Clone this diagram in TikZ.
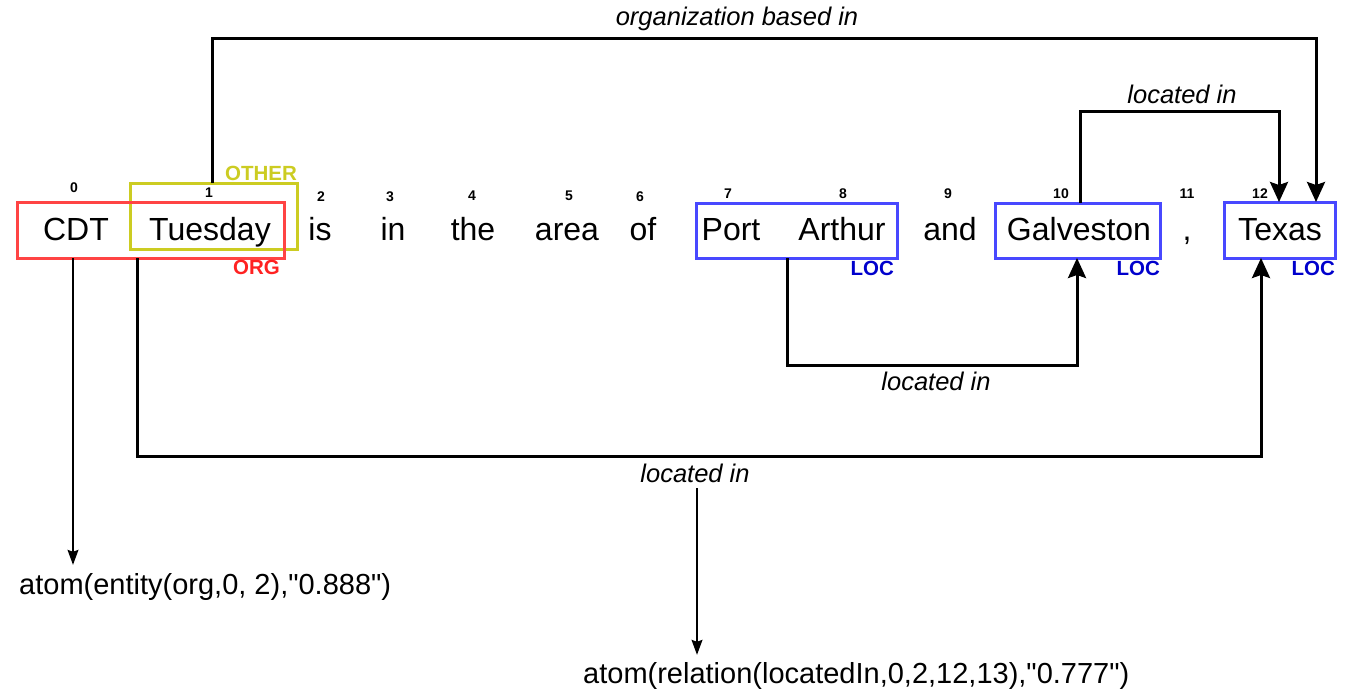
\documentclass[tikz,border=0pt]{standalone}
\usepackage{fontspec}
\setmainfont{Liberation Sans}
\usetikzlibrary{arrows.meta}
\definecolor{orgred}{HTML}{FF4444}
\definecolor{orgtext}{HTML}{FF2222}
\definecolor{othyel}{HTML}{CCCC22}
\definecolor{locblue}{HTML}{4848FF}
\definecolor{loctext}{HTML}{0000CC}

\begin{document}
\begin{tikzpicture}[x=1pt,y=-1pt,
  word/.style={anchor=base, inner sep=0pt, font=\fontsize{32}{38}\selectfont},
  idx/.style={anchor=base, inner sep=0pt, font=\fontsize{14}{16}\selectfont\bfseries},
  spanbox/.style={draw=#1, line width=3pt, inner sep=0pt, outer sep=0pt, rectangle},
  tagtext/.style={anchor=base east, inner sep=0pt, font=\fontsize{20.5}{24}\selectfont\bfseries},
  relarrow/.style={line width=3pt, -{Stealth[length=20pt,width=18pt,inset=3pt]}},
  rellabel/.style={anchor=base, inner sep=0pt, font=\fontsize{25.5}{30}\selectfont\itshape},
  outarrow/.style={line width=1.2pt, -{Stealth[length=15pt,width=11pt,inset=2pt]}},
  atomtxt/.style={anchor=base west, inner sep=0pt, font=\fontsize{29}{34}\selectfont}]

\fill[white] (0,0) rectangle (1356,693);
\useasboundingbox (0,0) rectangle (1356,693);

% tokens
\node[word] (w0)  at (76,240)   {CDT};
\node[word] (w1)  at (210,240)  {Tuesday};
\node[word] (w2)  at (320,240)  {is};
\node[word] (w3)  at (393,240)  {in};
\node[word] (w4)  at (473,240)  {the};
\node[word] (w5)  at (567,240)  {area};
\node[word] (w6)  at (643,240)  {of};
\node[word] (w7)  at (731,240)  {Port};
\node[word] (w8)  at (842,240)  {Arthur};
\node[word] (w9)  at (950,240)  {and};
\node[word] (w10) at (1079,240) {Galveston};
\node[word] (w11) at (1187,240) {,};
\node[word] (w12) at (1280,240) {Texas};

% token indices
\node[idx] (i0)  at (74,192)   {0};
\node[idx] (i1)  at (209,197)  {1};
\node[idx] (i2)  at (321,201)  {2};
\node[idx] (i3)  at (390,201)  {3};
\node[idx] (i4)  at (472,200)  {4};
\node[idx] (i5)  at (569,200)  {5};
\node[idx] (i6)  at (640,201)  {6};
\node[idx] (i7)  at (728,198)  {7};
\node[idx] (i8)  at (843,198)  {8};
\node[idx] (i9)  at (948,198)  {9};
\node[idx] (i10) at (1061,198) {10};
\node[idx] (i11) at (1187,198) {11};
\node[idx] (i12) at (1260,198) {12};

% entity spans
\node[spanbox=othyel, minimum width=167pt, minimum height=66pt] (othbox) at (213.5,216) {};
\node[spanbox=orgred, minimum width=267pt, minimum height=56pt] (orgbox) at (150.5,230) {};
\node[spanbox=locblue, minimum width=201pt, minimum height=55pt] (pabox) at (796.5,230.5) {};
\node[spanbox=locblue, minimum width=165pt, minimum height=55pt] (galbox) at (1077.5,230.5) {};
\node[spanbox=locblue, minimum width=111pt, minimum height=56pt] (texbox) at (1279.5,230) {};

% entity types
\node[tagtext, text=othyel] (tOther) at (297,180) {OTHER};
\node[tagtext, text=orgtext] (tOrg) at (280,274) {ORG};
\node[tagtext, text=loctext] (tLoc1) at (894,275) {LOC};
\node[tagtext, text=loctext] (tLoc2) at (1160,275) {LOC};
\node[tagtext, text=loctext] (tLoc3) at (1335,275) {LOC};

% relation labels
\node[rellabel] (lOrgIn) at (737,26)  {organization based in};
\node[rellabel] (lLoc1)  at (1182,103) {located in};
\node[rellabel] (lLoc2)  at (936,390) {located in};
\node[rellabel] (lLoc3)  at (695,482) {located in};

% relations
\draw[relarrow] ([xshift=82pt]othbox.north west) -- ++(0,-144) -| ([xshift=92pt]texbox.north west);
\draw[relarrow] ([xshift=85pt]galbox.north west) -- ++(0,-92) -| ([xshift=55pt]texbox.north west);
\draw[relarrow] ([xshift=91pt]pabox.south west) -- ++(0,107) -| ([xshift=82pt]galbox.south west);
\draw[relarrow] ([xshift=120pt]orgbox.south west) -- ++(0,198) -| ([xshift=37pt]texbox.south west);

% resulting atoms
\node[atomtxt] (atom1) at (19,594)  {atom(entity(org,0, 2),\textquotedbl0.888\textquotedbl)};
\node[atomtxt] (atom2) at (583,683) {atom(relation(locatedIn,0,2,12,13),\textquotedbl0.777\textquotedbl)};

\draw[outarrow, shorten >=8pt] ([xshift=56pt]orgbox.south west) coordinate (cdtfoot) -- (cdtfoot |- atom1.north);
\draw[outarrow, shorten <=6pt, shorten >=7pt] ([xshift=2pt]lLoc3.south) coordinate (lblfoot) -- (lblfoot |- atom2.north);
\end{tikzpicture}
\end{document}
